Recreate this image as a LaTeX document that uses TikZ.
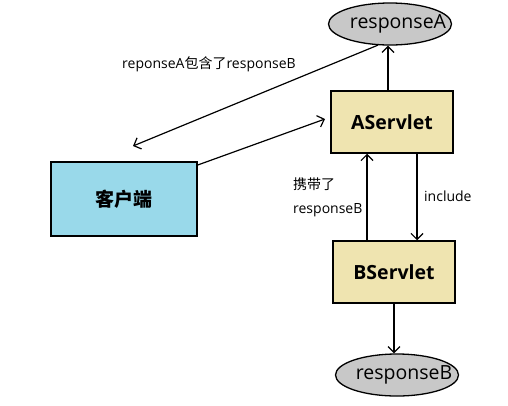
\documentclass[tikz,border=0pt]{standalone}
\usepackage{fontspec}
\setmainfont{Open Sans}
\newfontfamily\cjk{Noto Sans CJK SC}
\usetikzlibrary{arrows.meta,shapes.geometric}
\definecolor{ellgray}{RGB}{200,200,200}
\definecolor{servy}{RGB}{239,228,176}
\definecolor{clientb}{RGB}{153,217,234}
\begin{document}
\begin{tikzpicture}[x=1pt,y=-1pt,
  every node/.style={inner sep=0pt},
  ell/.style={ellipse,draw,line width=1.3pt,fill=ellgray,minimum width=123pt,minimum height=42pt,font=\fontsize{19.5}{22}\selectfont},
  servbox/.style={rectangle,draw,line width=1.5pt,fill=servy,minimum width=122pt,minimum height=62pt,font=\bfseries\fontsize{19.5}{22}\selectfont},
  clientbox/.style={rectangle,draw,line width=1.5pt,fill=clientb,minimum width=146pt,minimum height=74pt,font=\cjk\bfseries\fontsize{19}{22}\selectfont},
  conn/.style={line width=1.2pt,-{Straight Barb[length=6pt,width=12pt,line width=1.2pt]}},
  lbl/.style={font=\fontsize{14}{16}\selectfont}]
\useasboundingbox (0,0) rectangle (508,405);
\node[ell] (ra) at (390,24) {\makebox[0pt][c]{\hspace*{16pt}responseA}};
\node[servbox] (as) at (392,122) {AServlet};
\node[servbox] (bs) at (394,272) {BServlet};
\node[ell] (rb) at (397,375) {\makebox[0pt][c]{\hspace*{14pt}responseB}};
\node[clientbox] (cl) at (124,199) {客户端};
\coordinate (c1) at (133,146);
\draw[conn] (as.north -| 388,0) -- (ra.south -| 388,0);
\draw[conn] (ra.240) -- (c1);
\draw[conn] (cl.north east |- 0,165) -- (325,119) coordinate (c2);
\draw[conn] (bs.north -| 367,0) -- (as.south -| 367,0);
\draw[conn] (as.south -| 417,0) -- (bs.north -| 417,0);
\draw[conn] (bs.south) -- (rb.north -| bs.south);
\node[lbl] (l1) at (209,64) {reponseA{\cjk 包含了}responseB};
\node[lbl,anchor=west] (l2) at (293,184) {\cjk 携带了};
\node[lbl,anchor=west] (l3) at (293,210) {responseB};
\node[lbl,anchor=west] (l4) at (424,196) {include};
\end{tikzpicture}
\end{document}
